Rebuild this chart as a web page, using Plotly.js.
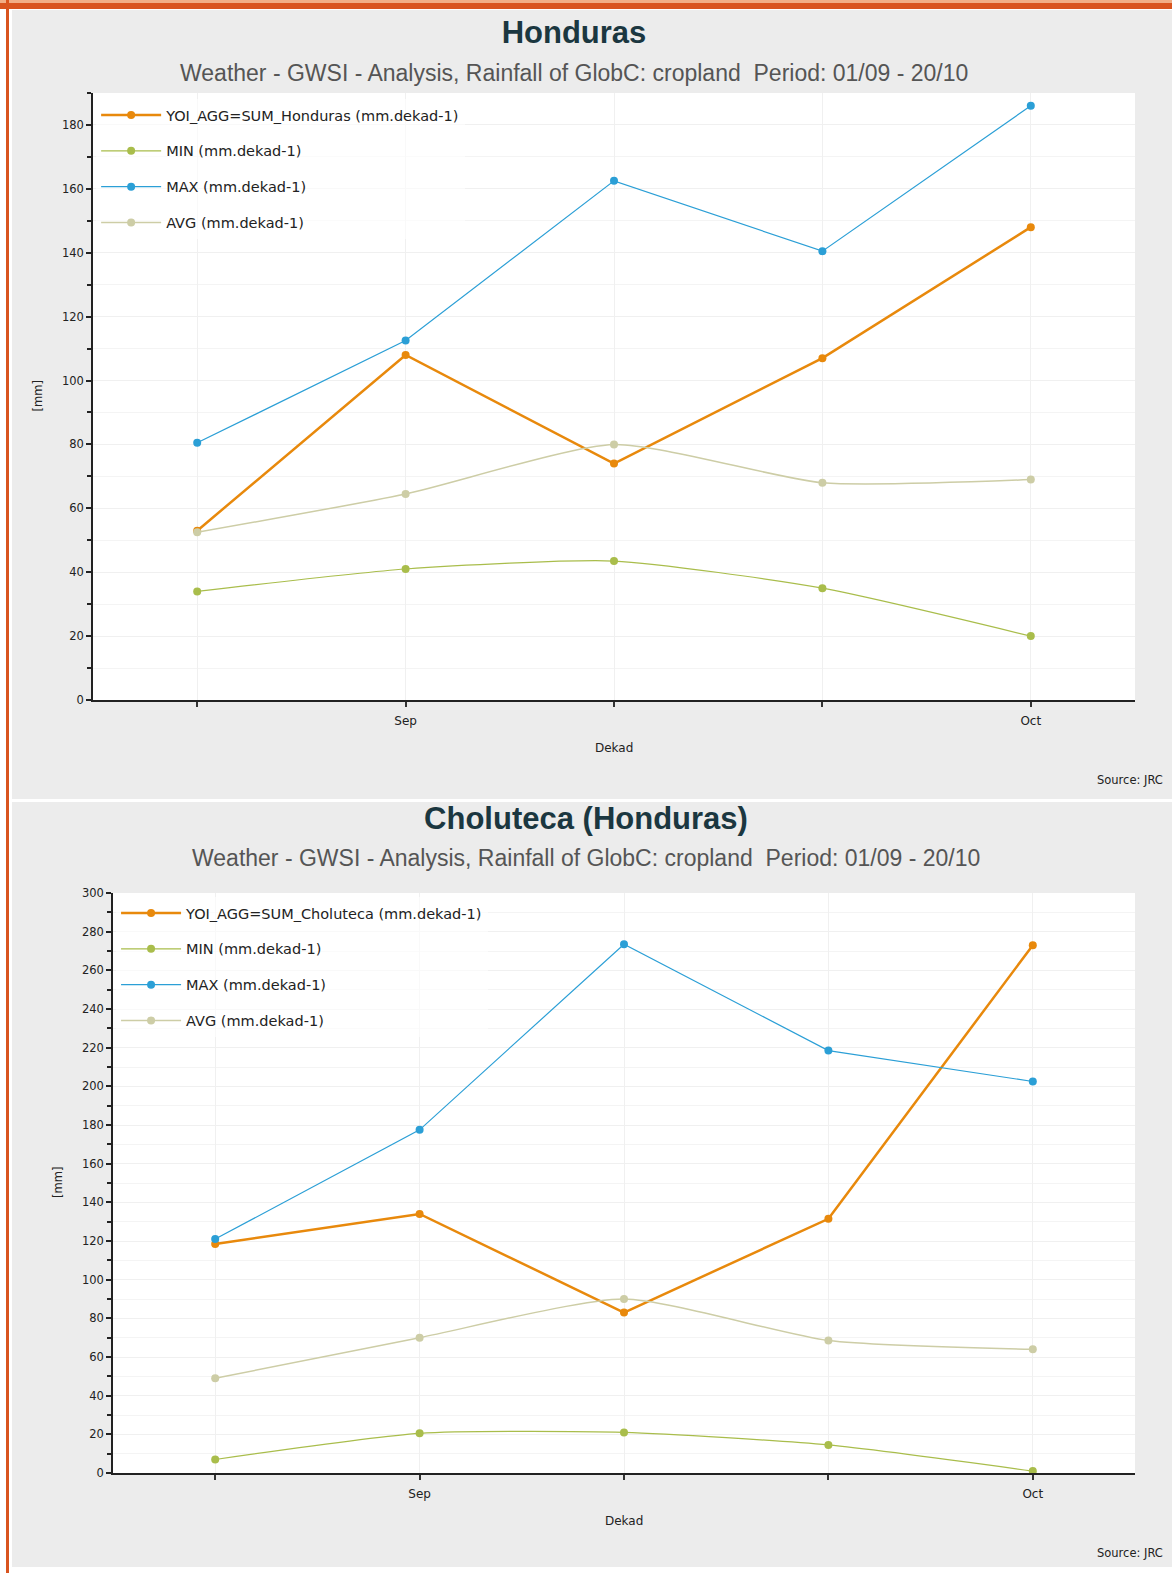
<!DOCTYPE html>
<html>
<head>
<meta charset="utf-8">
<script src="https://cdn.plot.ly/plotly-3.0.1.min.js"></script>
<style>
  html, body { margin: 0; padding: 0; background: #ffffff; width: 1172px; height: 1573px; overflow: hidden; }
  #topbarLight { position: absolute; left: 0; top: 0; width: 1172px; height: 3px; background: #f2ae86; }
  #topbarDark { position: absolute; left: 0; top: 3px; width: 1172px; height: 6px; background: #d9541f; }
  #leftbar { position: absolute; left: 6px; top: 0; width: 3px; height: 1573px; background: #d9541f; }
  #chart1 { position: absolute; left: 12px; top: 10px; width: 1160px; height: 789px; }
  #chart2 { position: absolute; left: 12px; top: 802px; width: 1160px; height: 765px; }
</style>
</head>
<body>
<div id="topbarLight"></div>
<div id="topbarDark"></div>
<div id="leftbar"></div>
<div id="chart1"></div>
<div id="chart2"></div>
<script>
// ---- data ----
const dekads = ['Sep-1', 'Sep-2', 'Sep-3', 'Oct-1', 'Oct-2'];
const tickLabels = ['', 'Sep', '', '', 'Oct'];
const seriesNames1 = ['YOI_AGG=SUM_Honduras (mm.dekad-1)', 'MIN (mm.dekad-1)', 'MAX (mm.dekad-1)', 'AVG (mm.dekad-1)'];
const seriesNames2 = ['YOI_AGG=SUM_Choluteca (mm.dekad-1)', 'MIN (mm.dekad-1)', 'MAX (mm.dekad-1)', 'AVG (mm.dekad-1)'];

const hondurasYOI = [53, 108, 74, 107, 148];
const hondurasMIN = [34, 41, 43.5, 35, 20];
const hondurasMAX = [80.5, 112.5, 162.5, 140.5, 186];
const hondurasAVG = [52.5, 64.5, 80, 68, 69];

const cholutecaYOI = [118.5, 134, 83, 131.5, 273];
const cholutecaMIN = [7, 20.5, 21, 14.5, 1];
const cholutecaMAX = [121, 177.5, 273.5, 218.5, 202.5];
const cholutecaAVG = [49, 70, 90, 68.5, 64];

const titles = ['Honduras', 'Choluteca (Honduras)'];
const subtitle = 'Weather - GWSI - Analysis, Rainfall of GlobC: cropland  Period: 01/09 - 20/10';

// ---- styles ----
const colors = ['#e8890c', '#a9bd4b', '#2b9fd6', '#cdcda6'];
const widths = [2.5, 1.2, 1.2, 1.5];
const shapes = ['linear', 'spline', 'linear', 'spline'];
const FONT = 'DejaVu Sans, Verdana, sans-serif';
const TFONT = 'Liberation Sans, Arial, sans-serif';

function makeTraces(names, values) {
  return values.map((v, i) => ({
    type: 'scatter', mode: 'lines+markers',
    x: dekads, y: v, name: names[i],
    legendgroup: 'g' + i,
    line: { color: colors[i], width: widths[i], shape: shapes[i], smoothing: 0.6 },
    marker: { color: colors[i], size: 8 },
    hoverinfo: 'x+y'
  }));
}

function makeLayout(opt) {
  const ph = opt.height - opt.mt - opt.mb;
  const pw = 1160 - opt.ml - opt.mr;
  const centerPaper = (opt.centerPx - 12 - opt.ml) / pw;
  return {
    width: 1160, height: opt.height,
    margin: { l: opt.ml, r: opt.mr, t: opt.mt, b: opt.mb },
    paper_bgcolor: '#ececec', plot_bgcolor: '#ffffff',
    showlegend: true,
    legend: {
      x: 0.003, y: 1 - opt.legDrop / ph, xanchor: 'left', yanchor: 'top',
      bgcolor: 'rgba(255,255,255,0.6)', borderwidth: 0,
      font: { family: FONT, size: 14.5, color: '#222' },
      itemsizing: 'trace', itemwidth: 60,
      traceorder: 'grouped', tracegroupgap: 14
    },
    title: {
      text: opt.title, x: (opt.centerPx - 12) / 1160, xanchor: 'center', xref: 'container',
      y: 1 - opt.titleY / opt.height, yref: 'container', yanchor: 'middle',
      font: { family: TFONT, size: 31, color: '#1b3740', weight: 'bold' }
    },
    xaxis: {
      type: 'category', range: [-0.5, 4.5],
      tickvals: dekads, ticktext: tickLabels,
      ticks: 'outside', ticklen: 5, tickcolor: '#333', tickwidth: 1.5,
      ticklabelstandoff: 4,
      showline: true, linecolor: '#222', linewidth: 1.5,
      showgrid: true, gridcolor: '#f0f0f0', gridwidth: 1,
      zeroline: false, fixedrange: true,
      tickfont: { family: FONT, size: 12, color: '#222' }
    },
    yaxis: {
      range: opt.yrange, dtick: 20, tick0: 0,
      ticks: 'outside', ticklen: 5, tickcolor: '#222', tickwidth: 1.5,
      showline: true, linecolor: '#222', linewidth: 1.5,
      showgrid: true, gridcolor: '#f0f0f0', gridwidth: 1,
      zeroline: false, fixedrange: true,
      tickfont: { family: FONT, size: 11.5, color: '#222' },
      minor: { dtick: 10, ticks: 'outside', ticklen: 4, tickcolor: '#222', showgrid: true, gridcolor: '#f4f4f4' }
    },
    annotations: [
      { text: subtitle, xref: 'paper', yref: 'paper', x: centerPaper, xanchor: 'center',
        y: 1 + opt.subGap / ph, yanchor: 'middle', showarrow: false,
        font: { family: TFONT, size: 23, color: '#555' } },
      { text: 'Dekad', xref: 'paper', yref: 'paper', x: 0.5, xanchor: 'center',
        y: -48 / ph, yanchor: 'middle', showarrow: false,
        font: { family: FONT, size: 12, color: '#222' } },
      { text: '[mm]', xref: 'paper', yref: 'paper', x: -opt.ytGap / pw, xanchor: 'center',
        y: 0.5, yanchor: 'middle', showarrow: false, textangle: -90,
        font: { family: FONT, size: 11.5, color: '#222' } },
      { text: 'Source: JRC', xref: 'paper', yref: 'paper', x: opt.srcX / pw, xanchor: 'right',
        y: -80 / ph, yanchor: 'middle', showarrow: false,
        font: { family: FONT, size: 11.5, color: '#222' } }
    ]
  };
}

const cfg = { displayModeBar: false };

Plotly.newPlot('chart1',
  makeTraces(seriesNames1, [hondurasYOI, hondurasMIN, hondurasMAX, hondurasAVG]),
  makeLayout({ height: 789, ml: 81, mr: 37, mt: 83, mb: 99, yrange: [0, 190],
               title: titles[0], centerPx: 574, titleY: 22, subGap: 20, ytGap: 56, srcX: 1072, legDrop: 6 }),
  cfg);

Plotly.newPlot('chart2',
  makeTraces(seriesNames2, [cholutecaYOI, cholutecaMIN, cholutecaMAX, cholutecaAVG]),
  makeLayout({ height: 765, ml: 101, mr: 37, mt: 91, mb: 94, yrange: [0, 300],
               title: titles[1], centerPx: 586, titleY: 16, subGap: 35, ytGap: 55, srcX: 1052, legDrop: 4 }),
  cfg);
</script>
</body>
</html>
